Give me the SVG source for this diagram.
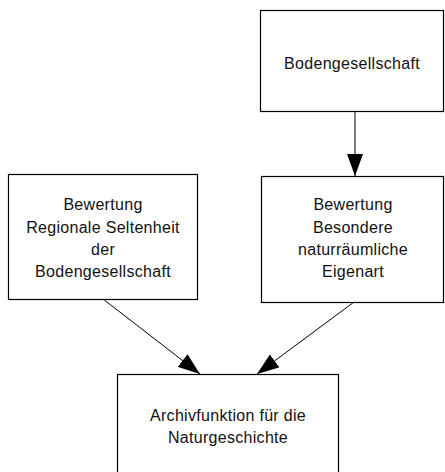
<svg xmlns="http://www.w3.org/2000/svg" width="445" height="472" viewBox="0 0 445 472">
  <style>
    .box { fill: #ffffff; stroke: #000000; stroke-width: 1.2; }
    .lbl { font-family: "Liberation Sans", Arial, sans-serif; font-size: 16px; fill: #111111; text-anchor: middle; letter-spacing: 0.3px; }
    .edge { stroke: #000000; stroke-width: 1; fill: none; marker-end: url(#arrow); }
  </style>
  <defs>
    <marker id="arrow" markerUnits="userSpaceOnUse" markerWidth="22" markerHeight="16" refX="22" refY="8" orient="auto">
      <path d="M0,0 L22,8 L0,16 Z" fill="#000000"/>
    </marker>
  </defs>
  <rect x="0" y="0" width="445" height="472" fill="#ffffff"/>
  <g id="connectors">
    <line class="edge" x1="355" y1="111" x2="355" y2="176"/>
    <line class="edge" x1="103" y1="299" x2="200" y2="374"/>
    <line class="edge" x1="354" y1="302" x2="257" y2="374"/>
  </g>
  <g id="node-bodengesellschaft">
    <rect class="box" x="260.5" y="10.5" width="183" height="101"/>
    <text class="lbl" x="352" y="69">Bodengesellschaft</text>
  </g>
  <g id="node-seltenheit">
    <rect class="box" x="8.5" y="174.5" width="189" height="125"/>
    <text class="lbl" x="103" y="210">Bewertung</text>
    <text class="lbl" x="103" y="233">Regionale Seltenheit</text>
    <text class="lbl" x="103" y="255">der</text>
    <text class="lbl" x="103" y="277">Bodengesellschaft</text>
  </g>
  <g id="node-eigenart">
    <rect class="box" x="261.5" y="176.5" width="182" height="126"/>
    <text class="lbl" x="353" y="210">Bewertung</text>
    <text class="lbl" x="353" y="233">Besondere</text>
    <text class="lbl" x="353" y="255">naturräumliche</text>
    <text class="lbl" x="353" y="277">Eigenart</text>
  </g>
  <g id="node-archivfunktion">
    <rect class="box" x="117.5" y="374.5" width="221" height="110"/>
    <text class="lbl" x="228" y="421">Archivfunktion für die</text>
    <text class="lbl" x="228" y="443">Naturgeschichte</text>
  </g>
</svg>
